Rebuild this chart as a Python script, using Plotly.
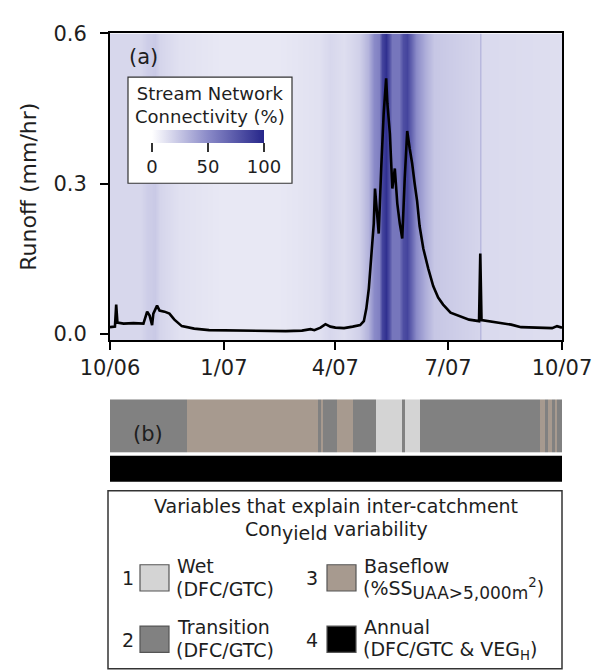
import plotly.graph_objects as go

FONT = "DejaVu Sans"
INK = "#1e1e1e"

# ---- (a) catchment runoff, water year 2007 ----
runoff_dates = [
    "2006-10-01", "2006-10-05", "2006-10-06", "2006-10-07", "2006-10-12", "2006-10-20",
    "2006-10-28", "2006-10-31", "2006-11-02", "2006-11-04", "2006-11-05", "2006-11-08",
    "2006-11-10", "2006-11-14", "2006-11-18", "2006-11-22", "2006-11-28", "2006-12-08",
    "2006-12-20", "2007-01-10", "2007-02-01", "2007-02-20", "2007-03-05", "2007-03-12",
    "2007-03-15", "2007-03-20", "2007-03-24", "2007-03-28", "2007-04-01", "2007-04-08",
    "2007-04-15", "2007-04-21", "2007-04-24", "2007-04-26", "2007-04-28", "2007-04-30",
    "2007-05-02", "2007-05-03", "2007-05-05", "2007-05-06", "2007-05-08", "2007-05-10",
    "2007-05-12", "2007-05-13", "2007-05-15", "2007-05-17", "2007-05-19", "2007-05-21",
    "2007-05-23", "2007-05-25", "2007-05-27", "2007-05-28", "2007-05-29", "2007-05-31",
    "2007-06-02", "2007-06-04", "2007-06-06", "2007-06-08", "2007-06-11", "2007-06-15",
    "2007-06-19", "2007-06-23", "2007-06-27", "2007-07-03", "2007-07-11", "2007-07-18",
    "2007-07-26", "2007-07-27", "2007-07-28", "2007-08-05", "2007-08-13", "2007-08-21",
    "2007-08-29", "2007-09-10", "2007-09-23", "2007-09-27", "2007-10-01",
]
runoff_mm_hr = [
    0.013, 0.014, 0.058, 0.022, 0.020, 0.021,
    0.020, 0.044, 0.036, 0.017, 0.040, 0.056,
    0.046, 0.044, 0.040, 0.028, 0.015, 0.010,
    0.007, 0.006, 0.005, 0.005, 0.006, 0.009,
    0.007, 0.012, 0.019, 0.014, 0.012, 0.011,
    0.014, 0.017, 0.025, 0.050, 0.090, 0.150,
    0.220, 0.290, 0.220, 0.200, 0.330, 0.440,
    0.510, 0.460, 0.400, 0.290, 0.330, 0.260,
    0.220, 0.190, 0.310, 0.370, 0.405, 0.370,
    0.340, 0.300, 0.265, 0.215, 0.170, 0.130,
    0.095, 0.072, 0.058, 0.042, 0.034, 0.028,
    0.025, 0.160, 0.027, 0.024, 0.021, 0.018,
    0.013, 0.012, 0.011, 0.015, 0.012,
]

# stream network connectivity (%) behind the hydrograph
conn_dates = [
    "2006-10-01", "2006-10-25", "2006-10-31", "2006-11-06", "2006-11-10", "2006-11-26",
    "2006-12-28", "2007-02-15", "2007-03-19", "2007-03-28", "2007-04-08", "2007-04-20",
    "2007-04-27", "2007-05-02", "2007-05-06", "2007-05-09", "2007-05-12", "2007-05-14",
    "2007-05-17", "2007-05-22", "2007-05-26", "2007-05-29", "2007-06-01", "2007-06-05",
    "2007-06-12", "2007-06-20", "2007-07-26", "2007-07-27", "2007-07-28", "2007-10-01",
]
conn_pct = [
    17, 17, 21, 23, 18, 13,
    10, 10, 13, 17, 14, 20,
    32, 50, 55, 85, 95, 80,
    60, 60, 80, 85, 70, 50,
    35, 24, 18, 30, 16, 14,
]

# ---- (b) dominant explanatory variable through the year ----
period_edges = [
    "2006-10-01", "2006-12-02", "2007-03-18", "2007-03-20", "2007-03-22", "2007-04-02",
    "2007-04-15", "2007-05-04", "2007-05-25", "2007-05-27", "2007-06-08", "2007-09-13",
    "2007-09-17", "2007-09-20", "2007-09-23", "2007-09-25", "2007-09-27", "2007-10-01",
]
period_class = [2, 3, 2, 3, 2, 3, 2, 1, 2, 1, 2, 3, 2, 3, 2, 3, 2]
annual_edges = ["2006-10-01", "2007-10-01"]
annual_class = [4]

class_ids = [1, 2, 3, 4]
class_colors = ["#d4d4d4", "#818181", "#a79a8f", "#000000"]
class_names = ["Wet", "Transition", "Baseflow", "Annual"]
class_detail = [
    "(DFC/GTC)",
    "(DFC/GTC)",
    "(%SS<sub><span style='font-size:17px'>UAA&gt;5,000m</span></sub><sup>2</sup>)",
    "(DFC/GTC &amp; VEG<sub>H</sub>)",
]

conn_scale = [[0.0, "#ffffff"], [0.5, "#8a8ac8"], [1.0, "#26268a"]]

# stepped colour scale for the class codes 1..4
class_scale = []
for i, c in enumerate(class_colors):
    class_scale.append([i / 4, c])
    class_scale.append([(i + 1) / 4, c])

W, H = 592, 670
L, R = 110, 30
PW = W - L - R


def px(x):
    return (x - L) / PW


def py(y):
    return 1 - y / H


fig = go.Figure()

fig.add_trace(go.Heatmap(
    x=conn_dates, y=[-0.05, 0.65], z=[conn_pct, conn_pct],
    zmin=0, zmax=100, colorscale=conn_scale, zsmooth="best",
    hoverinfo="skip",
    colorbar=dict(
        orientation="h", x=px(208), xanchor="center", y=py(121), yanchor="top",
        len=112 / PW, lenmode="fraction", thickness=13,
        ticks="outside", ticklen=9, tickwidth=1.5, tickcolor="#333",
        tickvals=[0, 50, 100], tickfont=dict(size=18, family=FONT, color=INK),
        outlinewidth=0, xpad=0, ypad=0,
    ),
    xaxis="x", yaxis="y",
))

fig.add_trace(go.Scatter(
    x=runoff_dates, y=runoff_mm_hr, mode="lines",
    line=dict(color="black", width=2.6), hoverinfo="skip",
    xaxis="x", yaxis="y",
))

fig.add_trace(go.Heatmap(
    x=period_edges, y=[31, 85], z=[period_class],
    zmin=0.5, zmax=4.5, colorscale=class_scale, showscale=False,
    hoverinfo="skip", xaxis="x2", yaxis="y2",
))
fig.add_trace(go.Heatmap(
    x=annual_edges, y=[0, 27], z=[annual_class],
    zmin=0.5, zmax=4.5, colorscale=class_scale, showscale=False,
    hoverinfo="skip", xaxis="x2", yaxis="y2",
))

tick_dates = ["2006-10-01", "2007-01-01", "2007-04-01", "2007-07-01", "2007-10-01"]
tick_text = ["10/06", "1/07", "4/07", "7/07", "10/07"]
x_range = ["2006-10-01", "2007-10-01"]

axis_font = dict(size=21, family=FONT, color=INK)

shapes = []
annotations = []

# inset frame for the colour scale
shapes.append(dict(type="rect", xref="paper", yref="paper",
                   x0=px(128), x1=px(292), y0=py(67), y1=py(176),
                   fillcolor="white", line=dict(color="#333", width=1.2),
                   layer="above"))
annotations.append(dict(text="Stream Network<br>Connectivity (%)", xref="paper", yref="paper",
                        x=px(210), y=py(71), xanchor="center", yanchor="top",
                        showarrow=False, font=dict(size=18, family=FONT, color=INK)))

annotations.append(dict(text="(a)", xref="paper", yref="paper", x=px(143), y=py(46),
                        xanchor="center", yanchor="middle", showarrow=False,
                        font=dict(size=21, family=FONT, color=INK)))
annotations.append(dict(text="(b)", xref="paper", yref="paper", x=px(148), y=py(434),
                        xanchor="center", yanchor="middle", showarrow=False,
                        font=dict(size=21, family=FONT, color=INK)))

# key box
shapes.append(dict(type="rect", xref="paper", yref="paper",
                   x0=px(108), x1=px(562), y0=py(675), y1=py(492),
                   fillcolor="white", line=dict(color="#333", width=1.5),
                   layer="above"))
annotations.append(dict(text="Variables that explain inter-catchment", xref="paper", yref="paper",
                        x=px(336), y=py(508), xanchor="center", yanchor="middle",
                        showarrow=False, font=dict(size=19, family=FONT, color=INK)))
annotations.append(dict(text="Con<sub><span style='font-size:19px'>yield</span></sub> variability",
                        xref="paper", yref="paper", x=px(336), y=py(533),
                        xanchor="center", yanchor="middle",
                        showarrow=False, font=dict(size=19, family=FONT, color=INK)))

key_slots = {1: (128, 582), 3: (312, 582), 2: (128, 645), 4: (312, 645)}
for cid, color, name, detail in zip(class_ids, class_colors, class_names, class_detail):
    nx, ny = key_slots[cid]
    annotations.append(dict(text=str(cid), xref="paper", yref="paper", x=px(nx), y=py(ny),
                            xanchor="center", yanchor="middle", showarrow=False,
                            font=dict(size=19, family=FONT, color=INK)))
    sx0 = nx + 12 if cid in (1, 2) else nx + 15
    shapes.append(dict(type="rect", xref="paper", yref="paper",
                       x0=px(sx0), x1=px(sx0 + 29), y0=py(ny + 13), y1=py(ny - 14),
                       fillcolor=color, line=dict(color="#555", width=1.2), layer="above"))
    tx = sx0 + 35
    annotations.append(dict(text=name, xref="paper", yref="paper", x=px(tx), y=py(ny - 13),
                            xanchor="left", yanchor="middle", showarrow=False,
                            font=dict(size=19, family=FONT, color=INK)))
    annotations.append(dict(text=detail, xref="paper", yref="paper", x=px(tx - 1), y=py(ny + 11),
                            xanchor="left", yanchor="middle", showarrow=False,
                            font=dict(size=19, family=FONT, color=INK)))

fig.update_layout(
    width=W, height=H,
    margin=dict(l=L, r=R, t=0, b=0),
    paper_bgcolor="white", plot_bgcolor="white",
    showlegend=False,
    font=dict(family=FONT, color=INK),
    xaxis=dict(
        type="date", domain=[0, 1], anchor="y", range=x_range,
        tickmode="array", tickvals=tick_dates, ticktext=tick_text,
        ticks="outside", ticklen=8, tickwidth=1.5, tickcolor="black",
        showline=True, linewidth=2, linecolor="black", mirror=True,
        showgrid=False, zeroline=False, tickfont=axis_font,
        ticklabeloverflow="allow",
    ),
    yaxis=dict(
        domain=[py(337), py(22)], anchor="x", range=[-0.0126, 0.6],
        tickmode="array", tickvals=[0, 0.3, 0.6], tickformat=".1f",
        ticks="outside", ticklen=8, tickwidth=1.5, tickcolor="black",
        showline=True, linewidth=2, linecolor="black", mirror=True,
        showgrid=False, zeroline=False, tickfont=axis_font,
        ticklabelstandoff=9, ticklabeloverflow="allow",
        title=dict(text="Runoff (mm/hr)", font=dict(size=22, family=FONT, color=INK), standoff=11),
    ),
    xaxis2=dict(type="date", domain=[0, 1], anchor="y2", range=x_range, visible=False),
    yaxis2=dict(domain=[py(483), py(398)], anchor="x2", range=[0, 85], visible=False),
    shapes=shapes,
    annotations=annotations,
)

fig.write_html("out.html")
